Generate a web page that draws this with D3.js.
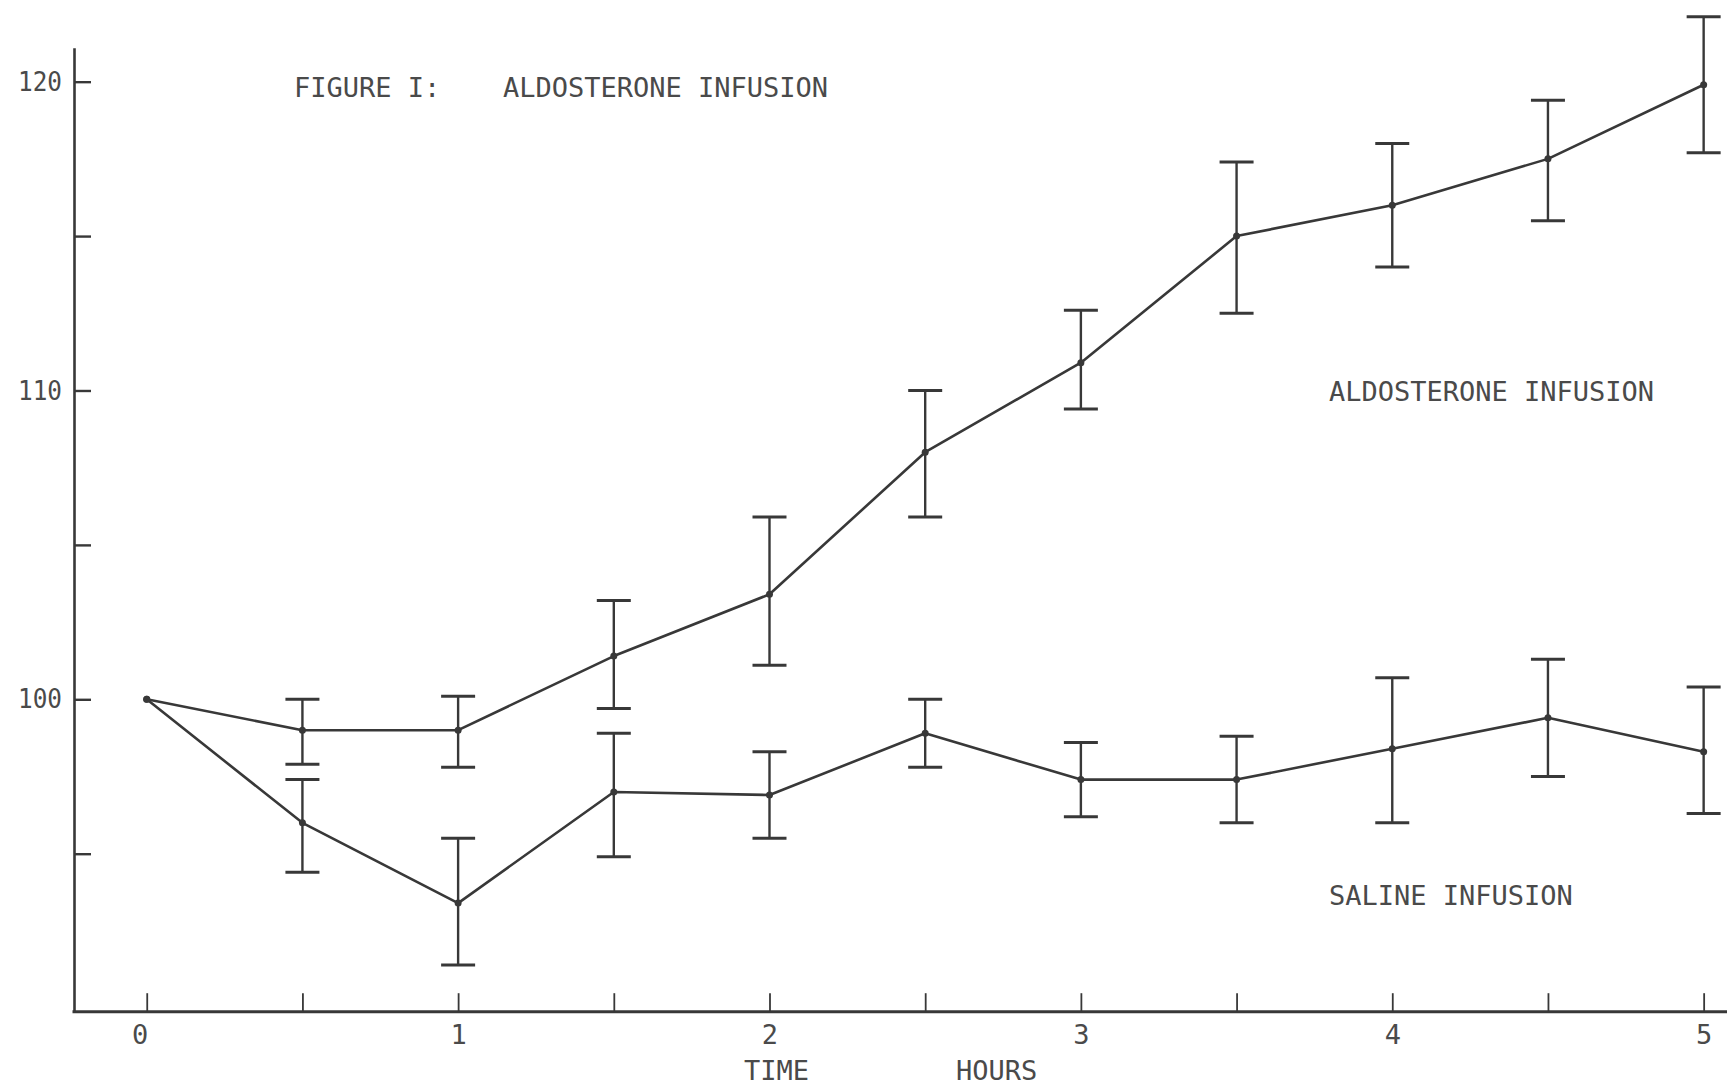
<!DOCTYPE html>
<html>
<head>
<meta charset="utf-8">
<script src="https://cdn.jsdelivr.net/npm/d3@7"></script>
<style>
  body { margin: 0; background: #fff; }
  svg { display: block; }
  text { font-family: "DejaVu Sans Mono", monospace; fill: #4a4a4a; }
</style>
</head>
<body>
<div class="container"></div>
<script>
// time points (hours)
const hours = [0, 0.5, 1, 1.5, 2, 2.5, 3, 3.5, 4, 4.5, 5];

// aldosterone infusion: mean and error bar ends
const aldoMean = [100, 99.0, 99.0, 101.4, 103.4, 108.0, 110.9, 115.0, 116.0, 117.5, 119.9];
const aldoHigh = [100, 100.0, 100.1, 103.2, 105.9, 110.0, 112.6, 117.4, 118.0, 119.4, 122.1];
const aldoLow  = [100, 97.9, 97.8, 99.7, 101.1, 105.9, 109.4, 112.5, 114.0, 115.5, 117.7];

// saline infusion
const salMean = [100, 96.0, 93.4, 97.0, 96.9, 98.9, 97.4, 97.4, 98.4, 99.4, 98.3];
const salHigh = [100, 97.4, 95.5, 98.9, 98.3, 100.0, 98.6, 98.8, 100.7, 101.3, 100.4];
const salLow  = [100, 94.4, 91.4, 94.9, 95.5, 97.8, 96.2, 96.0, 96.0, 97.5, 96.3];

const xTicks = [0, 0.5, 1, 1.5, 2, 2.5, 3, 3.5, 4, 4.5, 5];
const xTickLabels = ["0", "", "1", "", "2", "", "3", "", "4", "", "5"];
const yTicks = [95, 100, 105, 110, 115, 120];
const yTickLabels = ["", "100", "", "110", "", "120"];

const width = 1727, height = 1086;

let svg = d3.select(".container")
  .append("svg")
  .attr("width", width)
  .attr("height", height);

let x = d3.scaleLinear()
  .domain([-0.24, 5.075])
  .range([72, 1727]);

let y = d3.scaleLinear()
  .domain([89.9, 121.1])
  .range([1011.2, 47.7]);

let ink = "#383838";

// axes
let xAxis = d3.axisBottom(x)
  .tickValues(xTicks)
  .tickFormat((d, i) => xTickLabels[i])
  .tickSizeInner(-18)
  .tickSizeOuter(0)
  .tickPadding(14);

let gx = svg.append("g")
  .attr("transform", `translate(0,${y(89.9)})`)
  .call(xAxis);
gx.select(".domain").attr("stroke", ink).attr("stroke-width", 3);
gx.selectAll(".tick line").attr("stroke", ink).attr("stroke-width", 1.8);
gx.selectAll(".tick text").attr("font-size", 27).attr("fill", "#4a4a4a")
  .attr("dx", d => d === 0 ? -7 : 0)
  .style("font-family", '"DejaVu Sans Mono", monospace');

let yAxis = d3.axisLeft(y)
  .tickValues(yTicks)
  .tickFormat((d, i) => yTickLabels[i])
  .tickSizeInner(-17)
  .tickSizeOuter(0)
  .tickPadding(12);

let gy = svg.append("g")
  .attr("transform", `translate(${x(-0.24) + 2},0)`)
  .call(yAxis);
gy.select(".domain").attr("stroke", ink).attr("stroke-width", 2.6);
gy.selectAll(".tick line").attr("stroke", ink).attr("stroke-width", 2.4);
gy.selectAll(".tick text").attr("font-size", 27).attr("fill", "#4a4a4a")
  .attr("textLength", 44).attr("lengthAdjust", "spacingAndGlyphs")
  .style("font-family", '"DejaVu Sans Mono", monospace');

// series
let series = [
  { mean: aldoMean, high: aldoHigh, low: aldoLow },
  { mean: salMean, high: salHigh, low: salLow }
];

let line = d3.line()
  .x(d => x(d.h))
  .y(d => y(d.v));

series.forEach(s => {
  let pts = hours.map((h, i) => ({ h: h, v: s.mean[i], hi: s.high[i], lo: s.low[i] }));

  svg.append("path")
    .datum(pts)
    .attr("fill", "none")
    .attr("stroke", ink)
    .attr("stroke-width", 2.6)
    .attr("stroke-linejoin", "round")
    .attr("d", line);

  let bars = svg.append("g")
    .selectAll("g")
    .data(pts.filter(d => d.h > 0))
    .enter().append("g")
    .attr("stroke", ink)
    .attr("stroke-width", 2.4);

  bars.append("line")
    .attr("x1", d => x(d.h)).attr("x2", d => x(d.h))
    .attr("y1", d => y(d.hi)).attr("y2", d => y(d.lo));
  bars.append("line")
    .attr("x1", d => x(d.h) - 17).attr("x2", d => x(d.h) + 17)
    .attr("y1", d => y(d.hi)).attr("y2", d => y(d.hi))
    .attr("stroke-width", 3);
  bars.append("line")
    .attr("x1", d => x(d.h) - 17).attr("x2", d => x(d.h) + 17)
    .attr("y1", d => y(d.lo)).attr("y2", d => y(d.lo))
    .attr("stroke-width", 3);

  svg.append("g")
    .selectAll("circle")
    .data(pts)
    .enter().append("circle")
    .attr("cx", d => x(d.h))
    .attr("cy", d => y(d.v))
    .attr("r", 3.5)
    .attr("fill", ink);
});

// text
let label = (t, px, py) => svg.append("text")
  .attr("x", px).attr("y", py)
  .attr("font-size", 27)
  .text(t);

label("FIGURE I:", 294, 97);
label("ALDOSTERONE INFUSION", 503, 97);
label("ALDOSTERONE INFUSION", 1329, 401);
label("SALINE INFUSION", 1329, 905);
label("TIME", 744, 1080);
label("HOURS", 956, 1080);
</script>
</body>
</html>
